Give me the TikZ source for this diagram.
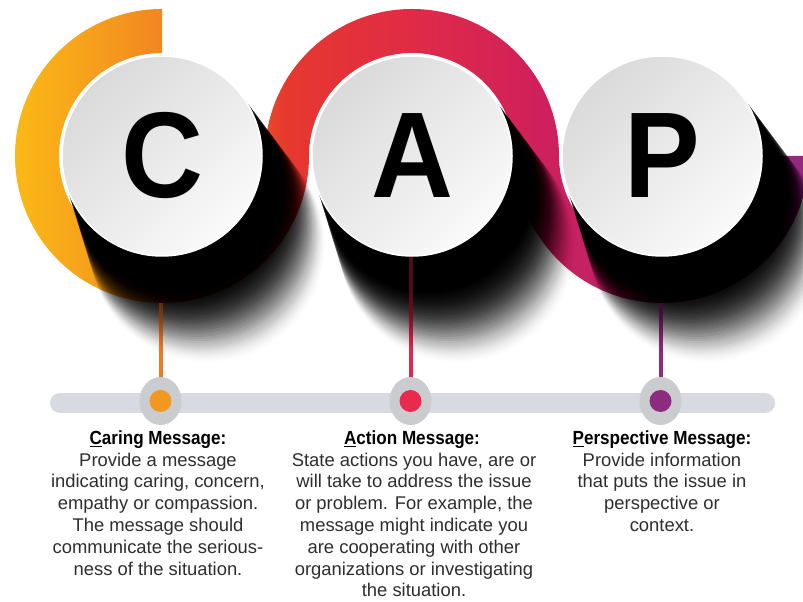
\documentclass[tikz,border=0pt]{standalone}
\usepackage{fontspec}
\setmainfont{Liberation Sans}
\newfontfamily\headfont{Liberation Sans}[FakeStretch=0.9]
\newfontfamily\capfont{Liberation Sans}[FakeStretch=0.93]

% ribbon colours, left to right
\definecolor{rYel}{HTML}{FBB915}
\definecolor{rOrA}{HTML}{F6A01C}
\definecolor{rOr}{HTML}{F28622}
\definecolor{rOrR}{HTML}{EE6226}
\definecolor{rRed}{HTML}{E7382E}
\definecolor{rCrim}{HTML}{E02B46}
\definecolor{rRose}{HTML}{D0205B}
\definecolor{rMag}{HTML}{B0256F}
\definecolor{rPur}{HTML}{942A80}
% discs, timeline, text
\definecolor{discA}{HTML}{DADADA}
\definecolor{discB}{HTML}{FAFAFA}
\definecolor{barC}{HTML}{D7DAE0}
\definecolor{haloC}{HTML}{CACCD0}
\definecolor{dotOr}{HTML}{F2981F}
\definecolor{dotRed}{HTML}{E92A4E}
\definecolor{dotPur}{HTML}{8D2C7F}
\definecolor{stemOr}{HTML}{F07A24}
\definecolor{stemRed}{HTML}{E0284C}
\definecolor{stemPur}{HTML}{8E2A7E}
\definecolor{txt}{HTML}{2E2E2E}

\pgfdeclarehorizontalshading{ribbonshade}{100bp}{%
  color(0bp)=(rYel); color(25.9bp)=(rYel); color(30.6bp)=(rOrA);
  color(35.1bp)=(rOr); color(39.3bp)=(rOrR); color(42.9bp)=(rRed);
  color(50.6bp)=(rCrim); color(58.4bp)=(rRose); color(66.2bp)=(rMag);
  color(74bp)=(rPur); color(100bp)=(rPur)}

\begin{document}
\begin{tikzpicture}[x=1pt,y=1pt,
  letter/.style={circle, minimum size=200pt, inner sep=0pt, draw=white,
    line width=1.5pt, top color=discA, bottom color=discB, shading angle=45,
    font=\capfont\bfseries\fontsize{122}{122}\selectfont, text=black},
  stem/.style={line width=4pt},
  dotnode/.style={circle, minimum size=22pt, inner sep=0pt},
  head/.style={font=\headfont\bfseries\fontsize{19}{21}\selectfont,
    text=black, inner sep=0pt, anchor=north},
  body/.style={font=\fontsize{18.4}{21.8}\selectfont, text=txt,
    align=center, inner sep=0pt, anchor=north}]

\useasboundingbox (0,0) rectangle (803,602);
\fill[white] (0,0) rectangle (803,602);

% disc centres and timeline stops
\coordinate (cC) at (162,446);
\coordinate (cA) at (412,446);
\coordinate (cP) at (662,446);
\coordinate (pC) at (160.5,201);
\coordinate (pA) at (410.5,201);
\coordinate (pP) at (660.5,201);

% S-shaped ribbon: three ring sectors, shaded left to right
\begin{scope}
  \clip (cC) ++(90:147) arc[start angle=90, end angle=360, radius=147]
        -- ++(-44,0) arc[start angle=360, end angle=90, radius=103] -- cycle
        (cA) ++(180:147) arc[start angle=180, end angle=0, radius=147]
        -- ++(-44,0) arc[start angle=0, end angle=180, radius=103] -- cycle
        (cP) ++(180:147) arc[start angle=180, end angle=360, radius=147]
        -- ++(-44,0) arc[start angle=360, end angle=180, radius=103] -- cycle;
  \shade[shading=ribbonshade] (0,0) rectangle (803,602);
\end{scope}

% stems from the discs down to the timeline
\draw[stem, stemOr] (pC) -- (pC |- cC);
\draw[stem, stemRed] (pA) -- (pA |- cA);
\draw[stem, stemPur] (pP) -- (pP |- cP);

% long soft shadows cast to the lower right, fading with distance
\foreach \c in {cC,cA,cP}{
  \foreach \k in {1,...,50}{
    \pgfmathsetmacro\rr{100+0.35*\k}
    \pgfmathsetmacro\ss{2*\k}
    \pgfmathsetmacro\op{0.25*(1-\k/52)}
    \fill[black, opacity=\op] ([shift={(-63:\ss)}]\c) circle[radius=\rr];
  }
}

% stems glow faintly through the shadow
\draw[stem, stemOr, opacity=0.35] (pC) -- (pC |- 0,299);
\draw[stem, stemRed, opacity=0.35] (pA) -- (pA |- 0,346);
\draw[stem, stemPur, opacity=0.35] (pP) -- (pP |- 0,299);

% the three discs
\node[letter] (C) at (cC) {C};
\node[letter] (A) at (cA) {A};
\node[letter] (P) at (cP) {P};

% timeline
\draw[line width=20pt, line cap=round, barC] (60,199) -- (765,199);
\fill[haloC] (pC) ellipse[x radius=21, y radius=24];
\fill[haloC] (pA) ellipse[x radius=21, y radius=24];
\fill[haloC] (pP) ellipse[x radius=21, y radius=24];
\node[dotnode, fill=dotOr] (dC) at (pC) {};
\node[dotnode, fill=dotRed] (dA) at (pA) {};
\node[dotnode, fill=dotPur] (dP) at (pP) {};

% captions
\node[head] (tC) at (158,171) {\underline{C}aring Message:};
\node[body] (bC) at (158,149.5) {Provide a message\\indicating caring, concern,\\empathy or compassion.\\The message should\\communicate the serious-\\ness of the situation.};
\node[head] (tA) at (412,171) {\underline{A}ction Message:};
\node[body] (bA) at (414,149.5) {State actions you have, are or\\will take to address the issue\\or problem. For example, the\\message might indicate you\\are cooperating with other\\organizations or investigating\\the situation.};
\node[head] (tP) at (662,171) {\underline{P}erspective Message:};
\node[body] (bP) at (662,149.5) {Provide information\\that puts the issue in\\perspective or\\context.};
\end{tikzpicture}
\end{document}
